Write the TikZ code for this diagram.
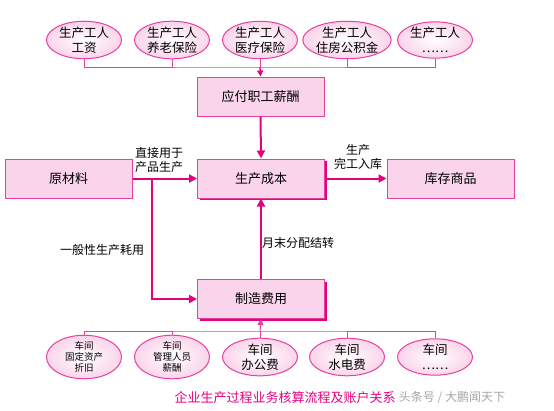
\documentclass[tikz,border=0pt]{standalone}
\usepackage{fontspec}
\setmainfont{Noto Sans CJK SC}
\usetikzlibrary{arrows.meta,shapes.geometric,shadows}
\definecolor{pk}{HTML}{FAD4EA}
\definecolor{mg}{HTML}{E8409E}
\definecolor{ar}{HTML}{E5007F}
\begin{document}
\begin{tikzpicture}[x=1pt,y=-1pt,
  box/.style={draw=mg,fill=pk,line width=1pt,minimum width=127pt,minimum height=39pt,inner sep=0pt,font=\fontsize{13}{15}\selectfont},
  shbox/.style={box,drop shadow={shadow xshift=2pt,shadow yshift=-2.2pt,fill=ar,opacity=1}},
  ell/.style={ellipse,draw=mg,line width=1pt,inner color=white,outer color=pk,minimum width=75pt,minimum height=36pt,inner sep=0pt,align=center,font=\fontsize{12.5}{15}\selectfont},
  sell/.style={ell,font=\fontsize{9.5}{11}\selectfont},
  con/.style={draw=mg,line width=1pt},
  flow/.style={draw=ar,line width=2pt,-{Triangle[length=8pt,width=8pt]}},
  lab/.style={align=center,inner sep=0pt,font=\fontsize{12}{14}\selectfont}]
\useasboundingbox[fill=white] (0,0) rectangle (554,410);
% top ellipses
\node[ell] (t1) at (84,40) {生产工人\\工资};
\node[ell] (t2) at (172,40) {生产工人\\养老保险};
\node[ell] (t3) at (260,40) {生产工人\\医疗保险};
\node[ell] (t4) at (347,40) {生产工人\\住房公积金};
\node[ell] (t5) at (435,40) {生产工人\\……};
\coordinate (tj) at (260,67);
\draw[con] (t1.south) |- (tj) -| (t5.south);
\draw[con] (t2.south) -- (t2.south |- tj);
\draw[con] (t3.south) -- (tj);
\draw[con] (t4.south) -- (t4.south |- tj);
% boxes
\node[box] (pay) at (260.5,96.5) {应付职工薪酬};
\node[shbox] (cost) at (261,178.5) {生产成本};
\node[box] (raw) at (68.5,178.5) {原材料};
\node[box] (stock) at (450.5,178.5) {库存商品};
\node[shbox] (mfg) at (261,299) {制造费用};
% flows
\draw[con,draw=ar,line width=1.3pt,-{Triangle[length=6pt,width=6pt]}] (tj) -- (pay.north);
\draw[flow] (pay.south) -- (cost.north);
\draw[flow] (raw.east) -- (cost.west);
\draw[flow] (cost.east) -- (stock.west);
\coordinate (br) at (152,178.5);
\draw[flow] (br) |- (mfg.west);
\draw[flow] (mfg.north) -- (cost.south);
% labels
\node[lab] (l1) at (159,160) {直接用于\\产品生产};
\node[lab] (l2) at (358,157) {生产\\完工入库};
\node[lab] (l3) at (102,250) {一般性生产耗用};
\node[lab,anchor=west] (l4) at (262,243) {月末分配结转};
% bottom ellipses
\node[sell] (b1) at (84,357) {车间\\固定资产\\折旧};
\node[sell] (b2) at (172,357) {车间\\管理人员\\薪酬};
\node[ell] (b3) at (260,357) {车间\\办公费};
\node[ell] (b4) at (347,357) {车间\\水电费};
\node[ell] (b5) at (435,357) {车间\\……};
\coordinate (bj) at (260,331);
\draw[con] (b1.north) |- (bj) -| (b5.north);
\draw[con] (b2.north) -- (b2.north |- bj);
\draw[con] (b3.north) -- (bj);
\draw[con] (b4.north) -- (b4.north |- bj);
\draw[con,-{Triangle[length=6pt,width=6pt]}] (bj) -- (mfg.south);
% caption
\node[text=ar,inner sep=0pt,font=\fontsize{13}{15}\selectfont] (cap) at (285,398) {企业生产过程业务核算流程及账户关系};
\node[text=gray!70,inner sep=0pt,font=\fontsize{12}{14}\selectfont] (wm) at (452,398) {头条号 / 大鹏闻天下};
\end{tikzpicture}
\end{document}
